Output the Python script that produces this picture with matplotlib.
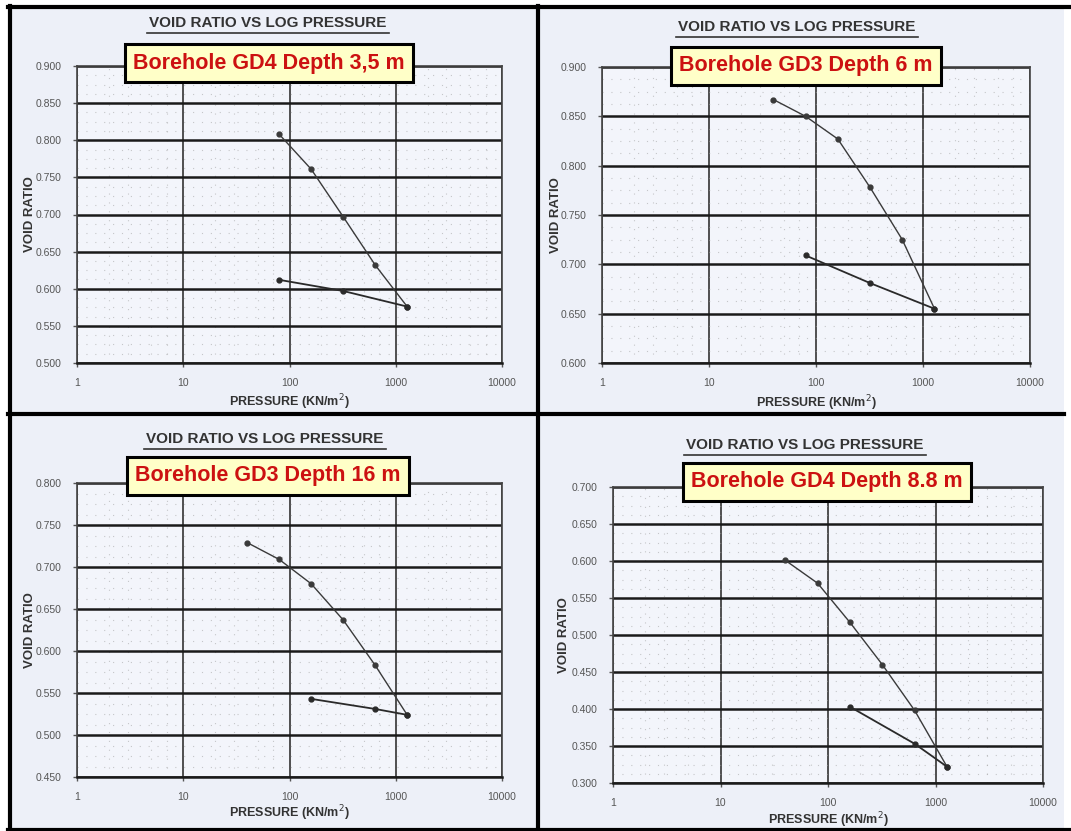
import matplotlib
matplotlib.use("Agg")
import matplotlib.pyplot as plt
from matplotlib.lines import Line2D
from matplotlib.patches import Rectangle
from matplotlib.ticker import FixedLocator, NullFormatter, LogLocator
import numpy as np

plt.rcParams['font.family'] = ['Liberation Sans', 'DejaVu Sans']

W, H = 1071, 831

# oedometer test results, pressure in kN/m2
labels = ["Borehole GD4 Depth 3,5 m", "Borehole GD3 Depth 6 m",
          "Borehole GD3 Depth 16 m", "Borehole GD4 Depth 8.8 m"]

load_p = [[80, 160, 320, 640, 1280],
          [40, 80, 160, 320, 640, 1280],
          [40, 80, 160, 320, 640, 1280],
          [40, 80, 160, 320, 640, 1280]]
load_e = [[0.808, 0.761, 0.697, 0.632, 0.576],
          [0.867, 0.850, 0.827, 0.778, 0.725, 0.655],
          [0.729, 0.709, 0.680, 0.637, 0.583, 0.524],
          [0.601, 0.570, 0.517, 0.460, 0.398, 0.322]]

unload_p = [[1280, 320, 80],
            [1280, 320, 80],
            [1280, 640, 160],
            [1280, 640, 160]]
unload_e = [[0.576, 0.597, 0.612],
            [0.655, 0.681, 0.709],
            [0.524, 0.531, 0.543],
            [0.322, 0.353, 0.403]]

y_ranges = [(0.500, 0.900), (0.600, 0.900), (0.450, 0.800), (0.300, 0.700)]
x_ticks = [1, 10, 100, 1000, 10000]

# pixel boxes: left, right, top, bottom of each plot area
boxes = [(77, 502, 66, 363), (602, 1030, 67, 363),
         (77, 502, 483, 777), (613, 1043, 487, 783)]
title_pos = [(268, 23), (797, 27), (265, 439), (805, 445)]
label_pos = [(269, 63), (806, 66), (268, 476), (827, 482)]
ylab_x = [30, 556, 30, 564]
xlab_y = [402, 403, 813, 820]

fig = plt.figure(figsize=(W / 100, H / 100), dpi=100)
fig.patch.set_facecolor('white')

def fx(px):
    return px / W

def fy(py):
    return 1 - py / H

# panel backgrounds
for (x0, x1, y0, y1) in [(9, 538, 7, 414), (538, 1064, 7, 414),
                         (9, 538, 414, 829), (538, 1064, 414, 829)]:
    fig.add_artist(Rectangle((fx(x0), fy(y1)), fx(x1) - fx(x0), fy(y0) - fy(y1),
                             transform=fig.transFigure, facecolor='#edf0f8',
                             edgecolor='none', zorder=0))

for i in range(4):
    l, r, t, b = boxes[i]
    ax = fig.add_axes([fx(l), fy(b), fx(r) - fx(l), fy(t) - fy(b)])
    ax.set_facecolor('#f3f5fb')
    ax.set_xscale('log')
    ax.set_xlim(1, 10000)
    lo, hi = y_ranges[i]
    ax.set_ylim(lo, hi)

    ax.xaxis.set_major_locator(FixedLocator(x_ticks))
    ax.set_xticklabels([str(v) for v in x_ticks])
    ax.xaxis.set_minor_locator(LogLocator(base=10, subs=[2, 3, 5, 7]))
    ax.xaxis.set_minor_formatter(NullFormatter())
    yt = np.arange(lo, hi + 0.001, 0.05)
    ax.set_yticks(yt)
    ax.set_yticklabels(['%.3f' % v for v in yt])
    ax.set_yticks(np.arange(lo, hi + 0.001, 0.0125), minor=True)

    ax.grid(True, which='major', axis='y', color='#1a1a1a', lw=1.8)
    ax.grid(True, which='major', axis='x', color='#333333', lw=1.2)
    ax.grid(True, which='minor', color='#a0a0a0', lw=0.8, ls=(0, (1, 7)), alpha=0.55)

    for s in ax.spines.values():
        s.set_color('#444444')
        s.set_linewidth(1.2)
    ax.spines['bottom'].set_color('#1a1a1a')
    ax.spines['bottom'].set_linewidth(1.8)

    ax.tick_params(which='major', labelsize=7.5, labelcolor='#555555',
                   color='#555555', length=3, width=1, pad=8)
    ax.tick_params(which='minor', length=0)

    ax.plot(load_p[i], load_e[i], color='#3a3a3a', lw=1, marker='o', ms=3.5,
            zorder=5, clip_on=False)
    ax.plot(unload_p[i], unload_e[i], color='#2a2a2a', lw=1.3, marker='o', ms=3.5,
            zorder=5, clip_on=False)

    tx, ty = title_pos[i]
    fig.text(fx(tx), fy(ty), "VOID RATIO VS LOG PRESSURE", ha='center', va='center',
             fontsize=11, fontweight='bold', color='#333333')
    fig.add_artist(Line2D([fx(tx - 121), fx(tx + 121)], [fy(ty + 10), fy(ty + 10)],
                          color='#333333', lw=1.2))

    lx, ly = label_pos[i]
    fig.text(fx(lx), fy(ly), labels[i], ha='center', va='center', fontsize=15.5,
             fontweight='bold', color='#cc1111', zorder=10,
             bbox=dict(boxstyle='square,pad=0.4', facecolor='#ffffc8',
                       edgecolor='black', linewidth=2.2))

    fig.text(fx(ylab_x[i]), fy((t + b) / 2), "VOID RATIO", rotation=90,
             ha='center', va='center', fontsize=9.5, fontweight='bold', color='#333333')
    fig.text(fx((l + r) / 2), fy(xlab_y[i]), "PRESSURE (KN/m$^{2}$)",
             ha='center', va='center', fontsize=9, fontweight='bold', color='#333333')

# black frame lines between panels
frame = [((8, 1071), (7, 7)), ((9.5, 9.5), (6, 831)), ((8, 1071), (829.5, 829.5)),
         ((8, 1064), (414, 414)), ((538, 538), (6, 831))]
for xs, ys in frame:
    fig.add_artist(Line2D([fx(xs[0]), fx(xs[1])], [fy(ys[0]), fy(ys[1])],
                          color='black', lw=3, zorder=20))

fig.savefig('out.png', dpi=100, facecolor=fig.get_facecolor())
